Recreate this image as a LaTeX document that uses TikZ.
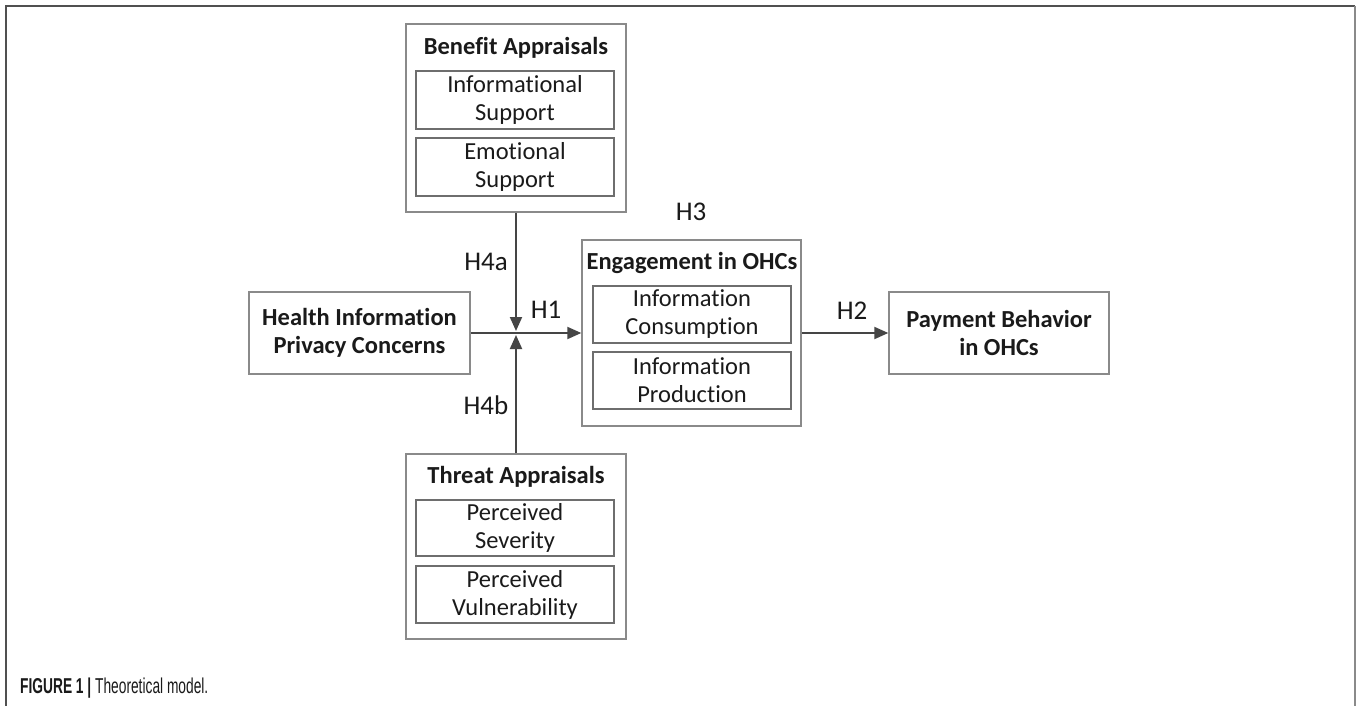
\documentclass[tikz,border=0pt]{standalone}
\usepackage{fontspec}
\setmainfont{Carlito}[RawFeature=-liga]
\newfontfamily\capfont{Liberation Sans}
\usetikzlibrary{arrows.meta}
\definecolor{boxgray}{HTML}{8A8A8A}
\definecolor{innergray}{HTML}{6E6E6E}
\definecolor{arrowgray}{HTML}{454545}
\definecolor{txt}{HTML}{1A1A1A}
\definecolor{framegray}{HTML}{505050}
\tikzset{
  outerbox/.style={draw=boxgray, line width=1.4pt, rectangle, inner sep=0pt},
  innerbox/.style={draw=innergray, line width=1.2pt, rectangle, inner sep=0pt, align=center,
    text=txt, minimum width=198pt, font=\fontsize{24.5}{28}\selectfont},
  titletext/.style={text=txt, font=\bfseries\fontsize{24.5}{28}\selectfont, inner sep=0pt},
  mainbox/.style={draw=boxgray, line width=1.4pt, rectangle, inner sep=0pt, align=center,
    text=txt, minimum width=221pt, minimum height=82pt, font=\bfseries\fontsize{24.5}{28}\selectfont},
  hlabel/.style={text=txt, font=\fontsize{27}{30}\selectfont, inner sep=0pt},
  conn/.style={draw=arrowgray, line width=2pt, -{Triangle[length=14pt,width=12pt]}},
  framestyle/.style={draw=framegray, line width=1.5pt}
}
\begin{document}
\begin{tikzpicture}[x=1pt,y=-1pt]
\useasboundingbox (0,0) rectangle (1357,706);
\fill[white] (0,0) rectangle (1357,706);
% frame
\coordinate (fbl) at (6,706);
\coordinate (ftl) at (6,6);
\coordinate (ftr) at (1355,6);
\coordinate (fbr) at (1355,706);
\draw[framestyle] (fbl) -- (ftl) -- (ftr);
\draw[draw=boxgray, line width=2.5pt] (ftr) -- (fbr);

% Benefit appraisals
\node[outerbox, minimum width=220pt, minimum height=188pt] (ben) at (516,118) {};
\node[titletext] (bent) at (516,48) {Benefit Appraisals};
\node[innerbox, minimum height=58pt] (ben1) at (515,100) {Informational\\Support};
\node[innerbox, minimum height=58pt] (ben2) at (515,167) {Emotional\\Support};

% Threat appraisals
\node[outerbox, minimum width=220pt, minimum height=185pt] (thr) at (516,546.5) {};
\node[titletext] (thrt) at (516,477) {Threat Appraisals};
\node[innerbox, minimum height=56pt] (thr1) at (515,528) {Perceived\\Severity};
\node[innerbox, minimum height=57pt] (thr2) at (515,594.5) {Perceived\\Vulnerability};

% Health
\node[mainbox] (hea) at (359.5,333) {Health Information\\Privacy Concerns};

% Engagement
\node[outerbox, minimum width=219pt, minimum height=186pt] (eng) at (691.5,333) {};
\node[titletext] (engt) at (692,263) {Engagement in OHCs};
\node[innerbox, minimum height=57pt] (eng1) at (692,314.5) {Information\\Consumption};
\node[innerbox, minimum height=57pt] (eng2) at (692,380.5) {Information\\Production};

% Payment
\node[mainbox, minimum width=220pt] (pay) at (999,333) {Payment Behavior\\in OHCs};

% connectors
\coordinate (jtop) at (516,331);
\coordinate (jbot) at (516,335);
\draw[conn] (hea.east) -- (eng.west);
\draw[conn] (eng.east) -- (pay.west);
\draw[conn] (ben.south) -- (jtop);
\draw[conn] (thr.north) -- (jbot);

% labels
\node[hlabel] (h4a) at (486,262) {H4a};
\node[hlabel] (h4b) at (486,405) {H4b};
\node[hlabel] (h1) at (546,310) {H1};
\node[hlabel] (h2) at (852,311) {H2};
\node[hlabel] (h3) at (691,212) {H3};

% caption
\node[anchor=base west, inner sep=0pt, text=txt] (cap) at (20,693)
  {\scalebox{0.64}[1]{\capfont\fontsize{21.5}{24}\selectfont\textbf{FIGURE 1}~\textbf{|}~Theoretical model.}};
\end{tikzpicture}
\end{document}
